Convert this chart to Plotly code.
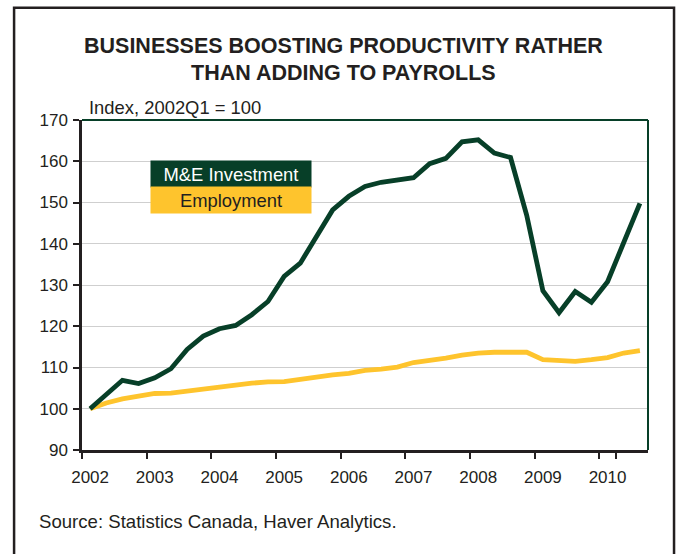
import plotly.graph_objects as go

# Quarterly index values, 2002Q1 = 100
quarters = [
    "2002Q1", "2002Q2", "2002Q3", "2002Q4",
    "2003Q1", "2003Q2", "2003Q3", "2003Q4",
    "2004Q1", "2004Q2", "2004Q3", "2004Q4",
    "2005Q1", "2005Q2", "2005Q3", "2005Q4",
    "2006Q1", "2006Q2", "2006Q3", "2006Q4",
    "2007Q1", "2007Q2", "2007Q3", "2007Q4",
    "2008Q1", "2008Q2", "2008Q3", "2008Q4",
    "2009Q1", "2009Q2", "2009Q3", "2009Q4",
    "2010Q1", "2010Q2", "2010Q3",
]
investment = [
    100.0, 103.4, 106.9, 106.1,
    107.5, 109.7, 114.4, 117.6,
    119.4, 120.2, 122.8, 126.0,
    132.1, 135.3, 141.8, 148.2,
    151.5, 153.9, 154.9, 155.4,
    156.0, 159.4, 160.7, 164.7,
    165.2, 162.0, 160.9, 146.9,
    128.6, 123.3, 128.4, 125.8,
    130.8, 140.3, 149.8,
]
employment = [
    100.0, 101.4, 102.4, 103.0,
    103.7, 103.8, 104.3, 104.8,
    105.2, 105.9, 106.2, 106.5,
    106.6, 107.1, 107.7, 108.2,
    108.6, 109.3, 109.6, 110.1,
    111.2, 111.7, 112.3, 113.0,
    113.5, 113.7, 113.7, 113.7,
    111.9, 111.6, 111.5, 111.9,
    112.4, 113.5, 114.1,
]
year_ticks = ["2002Q1", "2003Q1", "2004Q1", "2005Q1", "2006Q1",
              "2007Q1", "2008Q1", "2009Q1", "2010Q1"]
year_labels = ["2002", "2003", "2004", "2005", "2006",
               "2007", "2008", "2009", "2010"]

GREEN = "#073f28"
YELLOW = "#fec42d"
INK = "#231f20"
FONT = "Liberation Sans, Arial, sans-serif"

fig = go.Figure()
fig.add_trace(go.Scatter(
    x=quarters, y=employment, mode="lines", name="Employment",
    line=dict(color=YELLOW, width=4.8),
))
fig.add_trace(go.Scatter(
    x=quarters, y=investment, mode="lines", name="M&E Investment",
    line=dict(color=GREEN, width=4.8),
))

fig.update_layout(
    width=681, height=554,
    margin=dict(l=82, r=33, t=120, b=104),
    paper_bgcolor="white", plot_bgcolor="white",
    showlegend=False,
    font=dict(family=FONT, size=17, color=INK),
)

fig.update_xaxes(
    type="category", range=[-0.5, len(quarters) - 0.5],
    tickson="boundaries", tickmode="array",
    tickvals=year_ticks, ticktext=year_labels, tickangle=0,
    ticks="outside", ticklen=6, tickwidth=2, tickcolor=INK,
    ticklabelstandoff=10,
    showline=True, linecolor=INK, linewidth=2.5,
    showgrid=False, zeroline=False,
    tickfont=dict(size=17, color=INK),
)
fig.update_yaxes(
    range=[90, 170], dtick=10, tick0=90,
    ticks="outside", ticklen=6, tickwidth=2, tickcolor=INK,
    ticklabelstandoff=2,
    showline=True, linecolor=INK, linewidth=2.5,
    showgrid=True, gridcolor="#cfcfcf", gridwidth=1,
    zeroline=False,
    tickfont=dict(size=17, color=INK),
)

# Green frame on top and right of the plot area
fig.add_shape(type="line", xref="paper", yref="paper", x0=0, x1=1, y0=1, y1=1,
              line=dict(color=GREEN, width=2))
fig.add_shape(type="line", xref="paper", yref="paper", x0=1, x1=1, y0=0, y1=1,
              line=dict(color=GREEN, width=2))

# Outer box around the whole chart
fig.add_shape(type="rect", xref="paper", yref="paper",
              x0=-0.120, x1=1.046, y0=-0.40, y1=1.340,
              line=dict(color=INK, width=2.5), fillcolor="rgba(0,0,0,0)",
              layer="below")

# Title lines
fig.add_annotation(text="<b>BUSINESSES BOOSTING PRODUCTIVITY RATHER</b>",
                   xref="paper", yref="paper", x=0.4618, y=1.224,
                   xanchor="center", yanchor="middle", showarrow=False,
                   font=dict(size=21.5, color=INK))
fig.add_annotation(text="<b>THAN ADDING TO PAYROLLS</b>",
                   xref="paper", yref="paper", x=0.4618, y=1.141,
                   xanchor="center", yanchor="middle", showarrow=False,
                   font=dict(size=21.5, color=INK))

# Units label
fig.add_annotation(text="Index, 2002Q1 = 100",
                   xref="paper", yref="paper", x=0.009, y=1.0375,
                   xanchor="left", yanchor="middle", showarrow=False,
                   font=dict(size=18.4, color=INK))

# Legend boxes
fig.add_annotation(text="M&amp;E Investment",
                   xref="paper", yref="paper", x=0.2633, y=0.8364,
                   xanchor="center", yanchor="middle", showarrow=False,
                   width=160, height=26, borderpad=0, bgcolor=GREEN,
                   font=dict(size=18.4, color="white"))
fig.add_annotation(text="Employment",
                   xref="paper", yref="paper", x=0.2633, y=0.7576,
                   xanchor="center", yanchor="middle", showarrow=False,
                   width=160, height=26, borderpad=0, bgcolor=YELLOW,
                   font=dict(size=18.4, color=INK))

# Source note
fig.add_annotation(text="Source: Statistics Canada, Haver Analytics.",
                   xref="paper", yref="paper", x=-0.0795, y=-0.2165,
                   xanchor="left", yanchor="middle", showarrow=False,
                   font=dict(size=18.6, color=INK))

fig.write_html("out.html")
